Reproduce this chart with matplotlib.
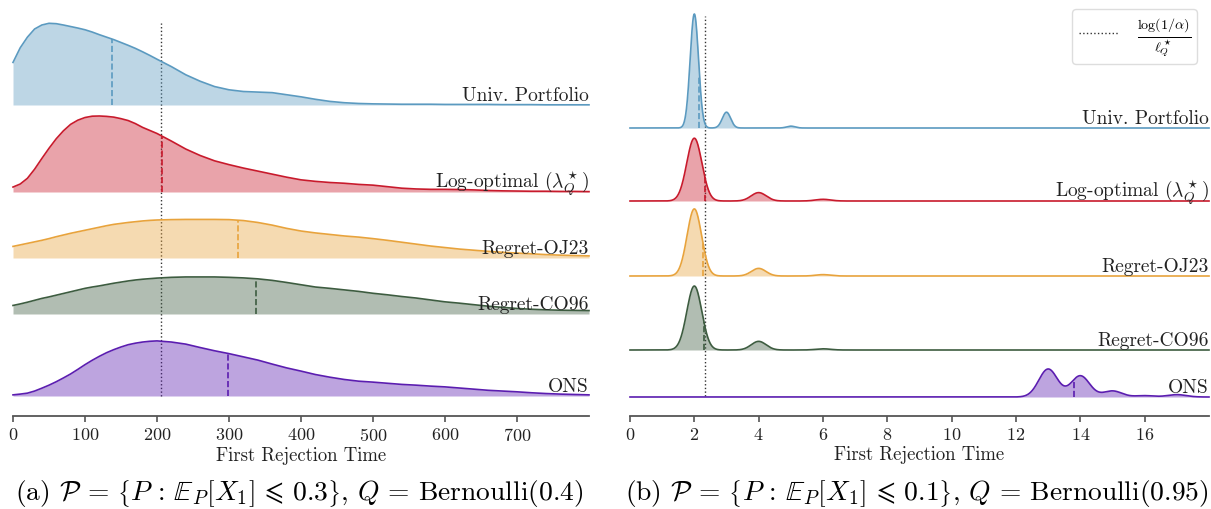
import numpy as np
import matplotlib
matplotlib.use("Agg")
import matplotlib.pyplot as plt
import matplotlib.transforms as mtransforms
from matplotlib.lines import Line2D
import seaborn as sns

plt.rcParams['font.family'] = 'serif'
plt.rcParams['font.serif'] = ['cmr10']
plt.rcParams['mathtext.fontset'] = 'cm'
plt.rcParams['axes.unicode_minus'] = False
plt.rcParams['axes.formatter.use_mathtext'] = True

methods = ["Univ. Portfolio", r"Log-optimal ($\lambda_Q^\star$)", "Regret-OJ23", "Regret-CO96", "ONS"]
colors = ["#5b9ac0", "#c81a2c", "#e8a33c", "#3d5c40", "#5b1db0"]

# (a) density of first rejection time (x1e-3)
times_a = list(range(0, 200, 10)) + list(range(200, 801, 20))
dens_univ = [2.24, 3.01, 3.57, 4.00, 4.21, 4.30, 4.28, 4.21, 4.13, 4.05,
             3.96, 3.84, 3.70, 3.57, 3.44, 3.29, 3.14, 2.98, 2.80, 2.61,
             2.41, 2.02, 1.59, 1.25, 0.97, 0.80, 0.71, 0.68, 0.65, 0.54,
             0.43, 0.30, 0.19, 0.12, 0.08, 0.06, 0.05, 0.04, 0.04, 0.04,
             0.03, 0.03, 0.03, 0.03, 0.02, 0.02, 0.02, 0.01, 0.01, 0.01, 0.01]
dens_logopt = [0.26, 0.42, 0.72, 1.20, 1.76, 2.30, 2.80, 3.22, 3.56, 3.78,
               3.92, 3.99, 4.00, 3.98, 3.94, 3.86, 3.76, 3.60, 3.40, 3.24,
               3.08, 2.68, 2.26, 1.92, 1.64, 1.44, 1.26, 1.10, 0.94, 0.78,
               0.64, 0.56, 0.50, 0.46, 0.40, 0.36, 0.28, 0.20, 0.16, 0.14,
               0.14, 0.13, 0.11, 0.08, 0.06, 0.05, 0.04, 0.04, 0.03, 0.03, 0.02]
dens_oj23 = [0.61, 0.69, 0.77, 0.85, 0.93, 1.02, 1.12, 1.21, 1.30, 1.38,
             1.46, 1.54, 1.62, 1.70, 1.77, 1.82, 1.87, 1.91, 1.95, 1.98,
             2.00, 2.02, 2.03, 2.03, 2.03, 2.02, 1.97, 1.87, 1.73, 1.56,
             1.42, 1.32, 1.24, 1.16, 1.10, 1.02, 0.93, 0.83, 0.73, 0.63,
             0.55, 0.47, 0.41, 0.35, 0.30, 0.26, 0.22, 0.18, 0.15, 0.13, 0.11]
dens_co96 = [0.45, 0.53, 0.62, 0.72, 0.82, 0.90, 0.99, 1.08, 1.17, 1.26,
             1.35, 1.42, 1.48, 1.55, 1.62, 1.68, 1.74, 1.79, 1.83, 1.86,
             1.89, 1.93, 1.95, 1.95, 1.95, 1.93, 1.90, 1.85, 1.77, 1.66,
             1.54, 1.42, 1.35, 1.27, 1.19, 1.09, 1.01, 0.92, 0.84, 0.74,
             0.64, 0.57, 0.49, 0.41, 0.35, 0.29, 0.25, 0.22, 0.20, 0.19, 0.18]
dens_ons = [0.06, 0.10, 0.15, 0.26, 0.41, 0.57, 0.75, 0.95, 1.16, 1.40,
            1.65, 1.88, 2.09, 2.28, 2.44, 2.58, 2.70, 2.78, 2.84, 2.88,
            2.90, 2.84, 2.73, 2.55, 2.38, 2.23, 2.06, 1.89, 1.68, 1.48,
            1.31, 1.13, 0.99, 0.87, 0.78, 0.73, 0.67, 0.61, 0.57, 0.52,
            0.48, 0.42, 0.36, 0.30, 0.26, 0.22, 0.17, 0.13, 0.10, 0.08, 0.06]
means_a = [138, 207, 313, 338, 298]
threshold_a = 205

# (b) runs (out of 1000) whose first rejection happens at each time
times_univ_b, counts_univ_b = [2, 3, 5], [866, 120, 14]
times_logopt_b, counts_logopt_b = [2, 4, 6], [862, 115, 23]
times_oj23_b, counts_oj23_b = [2, 4, 6], [882, 100, 18]
times_co96_b, counts_co96_b = [2, 4, 6], [867, 117, 16]
times_ons_b, counts_ons_b = [13, 14, 15, 16, 17], [474, 360, 103, 23, 40]
kde_width_b = [0.13, 0.235, 0.225, 0.232, 0.29]
means_b = [2.16, 2.32, 2.27, 2.30, 13.8]
threshold_b = 2.33

W, H = 1211, 510
fig = plt.figure(figsize=(W / 100, H / 100), dpi=100)


def box(l, r, b, t):
    # pixel box (from top-left) -> figure fraction
    return [l / W, 1 - b / H, (r - l) / W, (b - t) / H]


def make_main(l, r, xmax, ticks, thr, top_px):
    ax = fig.add_axes(box(l, r, 417, 5))
    ax.set_xlim(0, xmax)
    ax.set_ylim(0, 1)
    for s in ["left", "top", "right"]:
        ax.spines[s].set_visible(False)
    ax.spines["bottom"].set_color("#555555")
    ax.spines["bottom"].set_linewidth(1.3)
    ax.set_yticks([])
    ax.set_xticks(ticks)
    ax.tick_params(axis="x", colors="#555555", length=4, width=1.2, labelsize=13, labelcolor="#222222")
    ax.set_xlabel("First Rejection Time", fontsize=13.5, color="#222222", labelpad=2)
    ax.axvline(thr, ymin=(417 - 397) / 412, ymax=(417 - top_px) / 412, color="#333333", ls=":", lw=1.0)
    ax.patch.set_alpha(0)
    return ax


def ridge_label(ax, text):
    tr = mtransforms.offset_copy(ax.transAxes, fig=fig, x=0, y=5, units="dots")
    ax.text(1.0, 0, text, transform=tr, ha="right", va="baseline", fontsize=14, color="#222222")


# ---- panel (a)
main_a = make_main(13, 589, 800, range(0, 701, 100), threshold_a, 24)
base_a = [106, 193, 259, 315, 397]
dens_a = [dens_univ, dens_logopt, dens_oj23, dens_co96, dens_ons]
for i in range(5):
    ax = fig.add_axes(box(13, 589, base_a[i], base_a[i] - 100))
    ax.set_xlim(0, 800)
    ax.set_ylim(0, 100 / 19)
    ax.fill_between(times_a, dens_a[i], color=colors[i], alpha=0.4, lw=0)
    ax.plot(times_a, dens_a[i], color=colors[i], lw=1.2, clip_on=False)
    top = np.interp(means_a[i], times_a, dens_a[i])
    ax.plot([means_a[i], means_a[i]], [0, top], color=colors[i], ls="--", lw=1.2)
    ax.axis("off")
    ridge_label(ax, methods[i])

# ---- panel (b)
main_b = make_main(630, 1209, 18, range(0, 17, 2), threshold_b, 17)
base_b = [129, 202, 277, 351, 398]
times_b = [times_univ_b, times_logopt_b, times_oj23_b, times_co96_b, times_ons_b]
counts_b = [counts_univ_b, counts_logopt_b, counts_oj23_b, counts_co96_b, counts_ons_b]
for i in range(5):
    ax = fig.add_axes(box(630, 1209, base_b[i], base_b[i] - 120))
    sample = np.repeat(times_b[i], counts_b[i])
    bw = kde_width_b[i] / sample.std(ddof=1)
    kw = dict(x=sample, bw_method=bw, cut=100, clip=(0, 18), gridsize=4000, color=colors[i], ax=ax)
    sns.kdeplot(fill=True, alpha=0.4, linewidth=0, **kw)
    sns.kdeplot(lw=1.2, **kw)
    line = ax.lines[-1]
    line.set_clip_on(False)
    xs, ys = line.get_xdata(), line.get_ydata()
    top = np.interp(means_b[i], xs, ys)
    ax.plot([means_b[i], means_b[i]], [0, top], color=colors[i], ls="--", lw=1.2)
    ax.set_xlim(0, 18)
    ax.set_ylim(0, 120 / 42.9)
    ax.axis("off")
    ridge_label(ax, methods[i])

main_b.legend(handles=[Line2D([], [], color="#333333", ls=":", lw=1.0)],
              labels=[r"$\frac{\log(1/\alpha)}{\ell_Q^\star}$"],
              loc="upper right", bbox_to_anchor=(1197 / W, 1 - 10 / H), bbox_transform=fig.transFigure,
              borderaxespad=0, borderpad=0.3, fontsize=14.5, handlelength=2, handletextpad=0.9,
              frameon=True, fancybox=True, edgecolor="#dddddd", framealpha=1)

fig.text(299 / W, 1 - 494 / H,
         r"(a) $\mathcal{P} \,=\, \left\{P \,:\, \mathbb{E}_P[X_1] \,\leqslant\, 0.3\right\}$, $Q \,=\,$Bernoulli(0.4)",
         ha="center", va="center", fontsize=19.8)
fig.text(917 / W, 1 - 494 / H,
         r"(b) $\mathcal{P} \,=\, \left\{P \,:\, \mathbb{E}_P[X_1] \,\leqslant\, 0.1\right\}$, $Q \,=\,$Bernoulli(0.95)",
         ha="center", va="center", fontsize=19.8)

fig.savefig("out.png", dpi=100)
